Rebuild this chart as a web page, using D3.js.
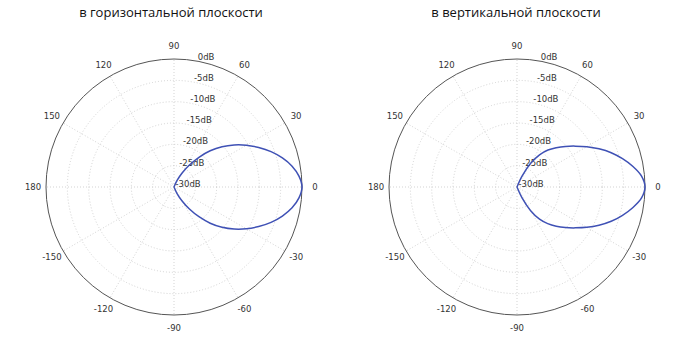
<!DOCTYPE html>
<html><head><meta charset="utf-8">
<script src="https://cdn.jsdelivr.net/npm/d3@7"></script>
<style>
html,body{margin:0;padding:0;background:#fff;}
svg{display:block;}
</style>
</head><body>
<svg id="chart" width="695" height="357"></svg>
<script>
// ---- data ----
const titles = ["в горизонтальной плоскости", "в вертикальной плоскости"];
const angleTicks = [0, 30, 60, 90, 120, 150, 180, -150, -120, -90, -60, -30];
const dbTicks = [0, -5, -10, -15, -20, -25, -30];
const patternAngles = [-70,-65,-60,-55,-50,-45,-40,-35,-30,-25,-20,-15,-10,-5,0,5,10,15,20,25,30,35,40,45,50,55,60,65,70];
const horizontalDb = [-30,-28.3,-26.2,-23.7,-20.9,-18.0,-15.3,-12.8,-10.4,-8.1,-5.8,-3.7,-1.9,-0.6,0,-0.6,-1.9,-3.7,-5.8,-8.1,-10.4,-12.8,-15.3,-18.0,-20.9,-23.7,-26.2,-28.3,-30];
const verticalDb = [-30,-27.2,-23.6,-20.8,-18.8,-17.0,-15.2,-13.3,-11.1,-8.8,-6.5,-4.4,-2.4,-0.7,0,-0.7,-2.4,-4.4,-6.5,-8.8,-11.1,-13.3,-15.2,-17.0,-18.7,-20.8,-23.6,-27.2,-30];

const svg = d3.select("#chart");
const R = 128;
const charts = [
  {cx: 174, cy: 187, tx: 171, title: titles[0], db: horizontalDb},
  {cx: 517, cy: 187, tx: 516, title: titles[1], db: verticalDb}
];

const rScale = d3.scaleLinear().domain([-30, 0]).range([0, R]).clamp(true);
const toRad = a => a * Math.PI / 180;

charts.forEach(c => {
  svg.append("text")
    .attr("x", c.tx).attr("y", 17)
    .attr("text-anchor", "middle")
    .attr("font-family", "'Open Sans', sans-serif")
    .attr("font-size", 13)
    .attr("fill", "#111")
    .text(c.title);

  const g = svg.append("g").attr("transform", `translate(${c.cx},${c.cy})`);

  // rings
  g.selectAll("circle.ring").data(dbTicks.filter(d => d > -30 && d < 0))
    .join("circle").attr("class", "ring")
    .attr("r", d => rScale(d))
    .attr("fill", "none").attr("stroke", "#c8c8c8")
    .attr("stroke-width", 0.8).attr("stroke-dasharray", "1,2");

  // spokes
  g.selectAll("line.spoke").data(angleTicks)
    .join("line").attr("class", "spoke")
    .attr("x1", 0).attr("y1", 0)
    .attr("x2", d => R * Math.cos(toRad(d)))
    .attr("y2", d => -R * Math.sin(toRad(d)))
    .attr("stroke", "#c8c8c8").attr("stroke-width", 0.8)
    .attr("stroke-dasharray", "1,2");

  // outer circle
  g.append("circle").attr("r", R).attr("fill", "none")
    .attr("stroke", "#555").attr("stroke-width", 1);

  // angle labels
  g.selectAll("text.ang").data(angleTicks)
    .join("text").attr("class", "ang")
    .attr("x", d => (R + 13) * Math.cos(toRad(d)))
    .attr("y", d => -(R + 13) * Math.sin(toRad(d)))
    .attr("dy", "0.35em")
    .attr("text-anchor", "middle")
    .attr("font-family", "'DejaVu Sans', sans-serif")
    .attr("font-size", 8.5)
    .attr("fill", "#333")
    .text(d => d);

  // db labels
  const la = toRad(80);
  g.selectAll("text.db").data(dbTicks)
    .join("text").attr("class", "db")
    .attr("x", d => rScale(d) * Math.cos(la) + 1.5)
    .attr("y", d => -rScale(d) * Math.sin(la) - 0.5)
    .attr("text-anchor", "start")
    .attr("font-family", "'DejaVu Sans', sans-serif")
    .attr("font-size", 8.5)
    .attr("fill", "#333")
    .text(d => d + "dB");

  // pattern
  const pts = patternAngles.map((a, i) => [a, c.db[i]]);
  const line = d3.line()
    .x(d => rScale(d[1]) * Math.cos(toRad(d[0])))
    .y(d => -rScale(d[1]) * Math.sin(toRad(d[0])))
    .curve(d3.curveCatmullRom.alpha(0.5));
  g.append("path").datum(pts)
    .attr("d", line)
    .attr("fill", "none")
    .attr("stroke", "#3f51b5")
    .attr("stroke-width", 1.5);
});
</script>
</body></html>
